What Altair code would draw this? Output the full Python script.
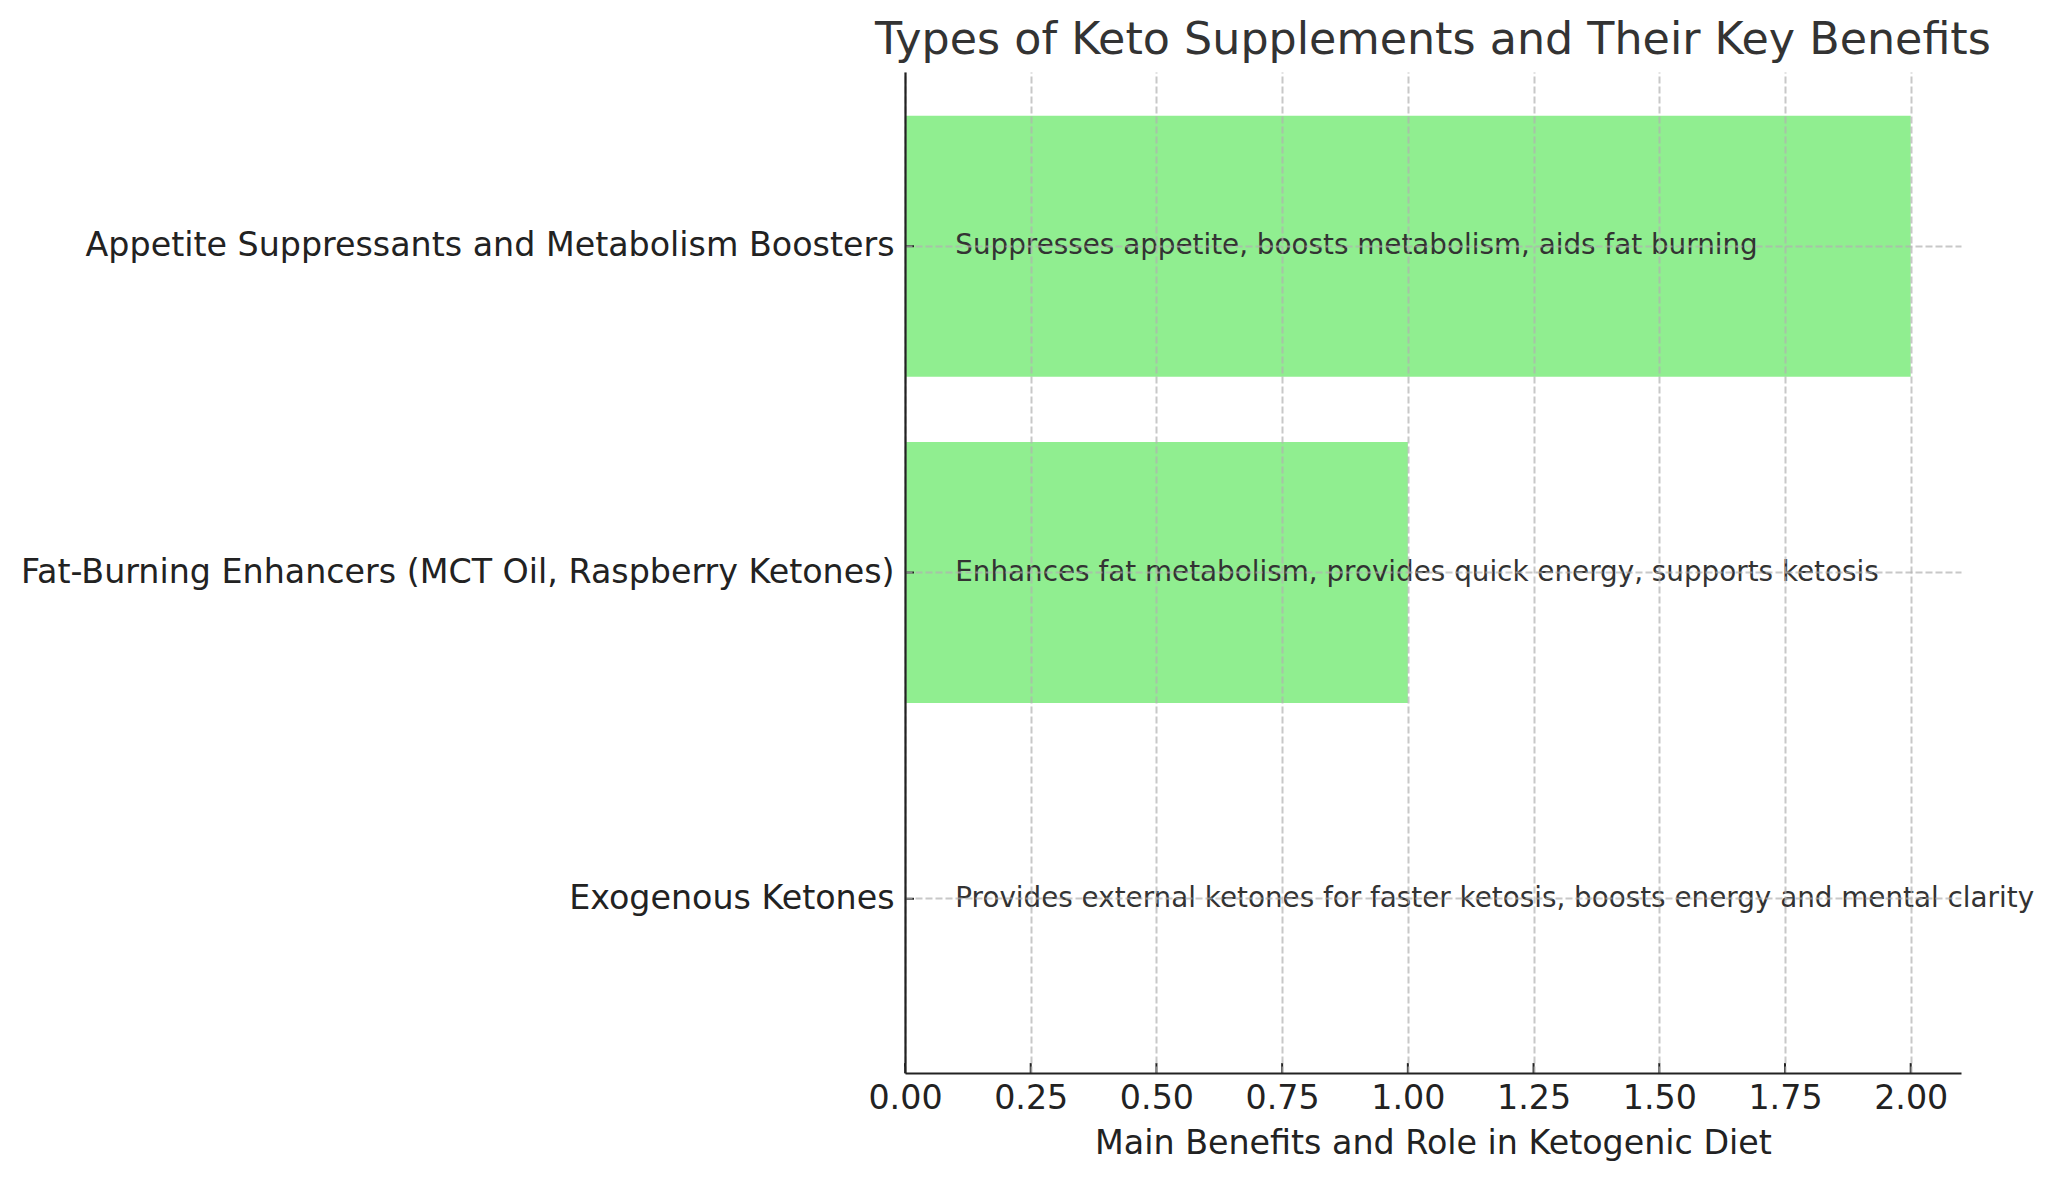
import altair as alt
import pandas as pd

# ---- data ----
categories = [
    "Exogenous Ketones",
    "Fat-Burning Enhancers (MCT Oil, Raspberry Ketones)",
    "Appetite Suppressants and Metabolism Boosters",
]
values = [0, 1, 2]
benefits = [
    "Provides external ketones for faster ketosis, boosts energy and mental clarity",
    "Enhances fat metabolism, provides quick energy, supports ketosis",
    "Suppresses appetite, boosts metabolism, aids fat burning",
]
x_ticks = [0.0, 0.25, 0.5, 0.75, 1.0, 1.25, 1.5, 1.75, 2.0]

df = pd.DataFrame({"category": categories, "value": values, "benefit": benefits})
ticks_df = pd.DataFrame({"tick": x_ticks})

FONT = "DejaVu Sans"
W, H = 1056, 1001
order = list(reversed(categories))

x_scale = alt.Scale(domain=[0, 2.1], nice=False, zero=True)
y_scale = alt.Scale(domain=order, paddingInner=0.2, paddingOuter=0.134)

x_axis = alt.Axis(
    values=x_ticks, format=".2f", ticks=False, tickSize=0,
    labelFont=FONT, labelFontSize=33.3, labelColor="#222222",
    labelPadding=9, labelFlush=False,
    grid=True, gridColor="#b0b0b0", gridOpacity=0.7, gridWidth=2, gridDash=[7, 3],
    domainColor="#222222", domainWidth=2.2,
    titleFont=FONT, titleFontSize=33.3, titleColor="#222222", titleFontWeight="normal",
    titleBaseline="alphabetic", titleY=80, titleX=W / 2, titleAlign="center",
    zindex=1,
)
y_axis = alt.Axis(
    ticks=False, tickSize=0, bandPosition=0.5,
    labelFont=FONT, labelFontSize=33.3, labelColor="#222222", labelPadding=11,
    labelLimit=2000,
    grid=True, gridColor="#b0b0b0", gridOpacity=0.7, gridWidth=2, gridDash=[7, 3],
    domainColor="#222222", domainWidth=2.2,
    zindex=1,
)

bars = alt.Chart(df).mark_bar(color="#90EE90").encode(
    x=alt.X("value:Q", scale=x_scale, axis=x_axis,
            title="Main Benefits and Role in Ketogenic Diet"),
    y=alt.Y("category:N", scale=y_scale, sort=order, axis=y_axis, title=None),
)

labels = alt.Chart(df).mark_text(
    align="left", baseline="middle", font=FONT, fontSize=27.8, color="#333333"
).encode(
    x=alt.datum(0.1),
    y=alt.Y("category:N", sort=order),
    text="benefit:N",
)

xticks = alt.Chart(ticks_df).mark_rule(color="#222222", strokeWidth=2).encode(
    x="tick:Q",
    y=alt.value(H - 10),
    y2=alt.value(H),
)

yticks = alt.Chart(df).mark_rule(color="#222222", strokeWidth=2).encode(
    y=alt.Y("category:N", sort=order),
    x=alt.value(0),
    x2=alt.value(9),
)

chart = alt.layer(bars, labels, xticks, yticks).properties(
    width=W,
    height=H,
    background="white",
    title=alt.TitleParams(
        "Types of Keto Supplements and Their Key Benefits",
        font=FONT, fontSize=44.4, fontWeight="normal", color="#333333",
        anchor="middle", baseline="alphabetic", offset=19, dy=45,
    ),
    autosize=alt.AutoSizeParams(type="none"),
    padding={"left": 905, "top": 72, "right": 91, "bottom": 107},
).configure_view(stroke=None)

chart.save("out.html", embed_options={"renderer": "svg", "actions": False})
